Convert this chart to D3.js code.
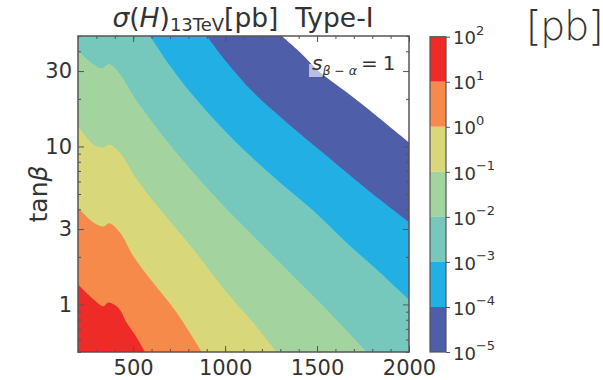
<!DOCTYPE html>
<html><head><meta charset="utf-8">
<script src="https://cdn.jsdelivr.net/npm/d3@7"></script>
<style>
body{margin:0;background:#fff;}
text{font-family:"DejaVu Sans",sans-serif;fill:#333;}
</style></head>
<body><svg id="c" width="603" height="380"></svg>
<script>
// contour levels (pb) and band colours (highest to lowest)
const levels = [1e2, 1e1, 1e0, 1e-1, 1e-2, 1e-3, 1e-4, 1e-5];
const bandColors = ["#ee2b26", "#f58a4b", "#d8d87a", "#a3d39e", "#75c8bb", "#22b0e4", "#4f5ea9"];
const levelExp = [2, 1, 0, -1, -2, -3, -4, -5];

// contour boundaries: [mH (GeV), tanβ]
const c1e1 = [[200,1.34],[283,1.08],[338,0.975],[365,1.03],[419,0.953],[465,0.765],[519,0.618],[564,0.5]];
const c1e0 = [[200,4.1],[283,3.3],[338,3.11],[370,3.26],[428,2.85],[501,2.02],[609,1.37],[737,0.886],[873,0.5]];
const c1em1 = [[200,13.5],[283,10.3],[338,9.86],[370,10.3],[428,9.15],[519,6.2],[646,4.0],[827,2.23],[1009,1.19],[1153,0.766],[1281,0.5]];
const c1em2 = [[200,40.4],[283,33.2],[329,31.2],[370,33.2],[428,28.7],[501,20.9],[646,12.3],[827,6.84],[1009,4.0],[1190,2.46],[1371,1.51],[1552,0.93],[1770,0.5]];
const c1em3 = [[592,50],[700,32.4],[827,20.9],[972,13.5],[1117,9.16],[1298,5.91],[1480,3.91],[1661,2.46],[1842,1.59],[2000,1.07]];
const c1em4 = [[900,50],[1009,34.1],[1153,22.0],[1335,14.2],[1552,8.72],[1770,5.36],[2000,3.32]];
const c1em5 = [[1308,50],[1407,39.5],[1516,29.5],[1661,22.0],[1824,15.6],[2000,10.6]];
const boundaries = [c1e1, c1e0, c1em1, c1em2, c1em3, c1em4, c1em5];

const xMajor = [500, 1000, 1500, 2000];
const xMinor = d3.range(200, 2001, 100);
const yMajor = [1, 3, 10, 30];
const yMajorLabels = ["1", "3", "10", "30"];
const xDomain = [200, 2000];
const yDomain = [0.5, 50];

const svg = d3.select("#c");
const L = 78, R = 409, T = 36, B = 352;
const x = d3.scaleLinear().domain(xDomain).range([L, R]);
const y = d3.scaleLog().domain(yDomain).range([B, T]);

svg.append("defs").append("clipPath").attr("id", "pc")
  .append("rect").attr("x", L).attr("y", T).attr("width", R - L).attr("height", B - T);
const g = svg.append("g").attr("clip-path", "url(#pc)");

g.append("rect").attr("x", L).attr("y", T).attr("width", R - L).attr("height", B - T).attr("fill", bandColors[0]);
const line = d3.line().x(d => x(d[0])).y(d => y(d[1])).curve(d3.curveCatmullRom.alpha(0.5));
boundaries.forEach((pts, i) => {
  const first = pts[0], last = pts[pts.length - 1];
  const extra = [];
  if (last[1] <= yDomain[0]) extra.push([xDomain[1], yDomain[0]]);
  extra.push([xDomain[1], yDomain[1]]);
  if (first[0] <= xDomain[0]) extra.push([xDomain[0], yDomain[1]]);
  let p = line(pts);
  extra.forEach(e => { p += "L" + x(e[0]) + "," + y(e[1]); });
  p += "Z";
  g.append("path").attr("d", p).attr("fill", i < bandColors.length - 1 ? bandColors[i + 1] : "#ffffff");
});

// annotation box + text
g.append("rect").attr("x", 309).attr("y", 64).attr("width", 14).attr("height", 13)
  .attr("fill", "#ffffff").attr("opacity", 0.6);
const ann = svg.append("text").attr("x", 312).attr("y", 70);
ann.append("tspan").attr("font-style", "italic").attr("font-size", 20).text("s");
ann.append("tspan").attr("font-style", "italic").attr("font-size", 12.5).attr("dy", 5).text("β − α");
ann.append("tspan").attr("font-size", 20).attr("dy", -5).attr("dx", 4).text("=");
ann.append("tspan").attr("font-size", 20).attr("dx", 5).text("1");

// axes
const axisColor = "#555";
function styleAxis(sel) {
  sel.select(".domain").remove();
  sel.selectAll("line").attr("stroke", axisColor).attr("stroke-width", 1);
  sel.selectAll("text").attr("font-size", 21).attr("fill", "#333");
}
const yMinor = [];
[0.1, 1, 10].forEach(d => { for (let k = 1; k <= 9; k++) { const v = k * d; if (v >= 0.5 && v <= 50 && !yMajor.includes(v)) yMinor.push(v); } });

svg.append("g").attr("transform", `translate(0,${B})`)
  .call(d3.axisBottom(x).tickValues(xMinor).tickSize(-3).tickFormat("")).call(styleAxis);
svg.append("g").attr("transform", `translate(0,${B})`)
  .call(d3.axisBottom(x).tickValues(xMajor).tickSize(-6).tickPadding(8).tickFormat(d3.format("d"))).call(styleAxis);
svg.append("g").attr("transform", `translate(0,${T})`)
  .call(d3.axisTop(x).tickValues(xMinor).tickSize(-3).tickFormat("")).call(styleAxis);
svg.append("g").attr("transform", `translate(0,${T})`)
  .call(d3.axisTop(x).tickValues(xMajor).tickSize(-6).tickFormat("")).call(styleAxis);
svg.append("g").attr("transform", `translate(${L},0)`)
  .call(d3.axisLeft(y).tickValues(yMinor).tickSize(-3).tickFormat("")).call(styleAxis);
svg.append("g").attr("transform", `translate(${L},0)`)
  .call(d3.axisLeft(y).tickValues(yMajor).tickSize(-6).tickPadding(6).tickFormat((d, i) => yMajorLabels[i])).call(styleAxis);
svg.append("g").attr("transform", `translate(${R},0)`)
  .call(d3.axisRight(y).tickValues(yMinor).tickSize(-3).tickFormat("")).call(styleAxis);
svg.append("g").attr("transform", `translate(${R},0)`)
  .call(d3.axisRight(y).tickValues(yMajor).tickSize(-6).tickFormat("")).call(styleAxis);

svg.append("rect").attr("x", L).attr("y", T).attr("width", R - L).attr("height", B - T)
  .attr("fill", "none").attr("stroke", axisColor).attr("stroke-width", 1.5);

// axis label
svg.append("text").attr("transform", `translate(47,${(T + B) / 2}) rotate(-90)`)
  .attr("text-anchor", "middle").attr("font-size", 25)
  .call(t => { t.append("tspan").text("tan"); t.append("tspan").attr("font-style", "italic").text("β"); });

// title
const title = svg.append("text").attr("x", 243).attr("y", 27).attr("text-anchor", "middle")
  .attr("font-size", 26.5).style("white-space", "pre");
title.append("tspan").attr("font-style", "italic").text("σ");
title.append("tspan").text("(");
title.append("tspan").attr("font-style", "italic").text("H");
title.append("tspan").text(")");
title.append("tspan").attr("font-size", 18).attr("dy", 4).text("13TeV");
title.append("tspan").attr("dy", -4).text("[pb]  Type-I");

// colorbar
const cbL = 430, cbW = 16;
const cy = d3.scaleLog().domain([1e-5, 1e2]).range([B, 36.7]);
bandColors.forEach((c, i) => {
  svg.append("rect").attr("x", cbL).attr("y", cy(levels[i])).attr("width", cbW)
    .attr("height", cy(levels[i + 1]) - cy(levels[i])).attr("fill", c);
});
svg.append("rect").attr("x", cbL).attr("y", cy(1e2)).attr("width", cbW).attr("height", B - cy(1e2))
  .attr("fill", "none").attr("stroke", axisColor).attr("stroke-width", 1.2);
const cbAxis = svg.append("g").attr("transform", `translate(${cbL + cbW},0)`)
  .call(d3.axisRight(cy).tickValues(levels).tickSize(4).tickPadding(3).tickFormat(""));
cbAxis.select(".domain").remove();
cbAxis.selectAll("line").attr("stroke", axisColor);
cbAxis.selectAll(".tick").append("text").attr("x", 7).attr("dy", "0.4em").attr("font-size", 18)
  .each(function (d, i) {
    const t = d3.select(this);
    t.append("tspan").text("10");
    t.append("tspan").attr("font-size", 13).attr("dy", "-0.75em").text(String(levelExp[i]).replace("-", "−"));
  });

// unit label
svg.append("text").attr("x", 526).attr("y", 40).attr("font-size", 40)
  .attr("font-family", "Lato, 'Open Sans', sans-serif").attr("font-weight", 300).attr("fill", "#1a1a1a")
  .attr("letter-spacing", -1.5).text("[pb]");
</script></body></html>
